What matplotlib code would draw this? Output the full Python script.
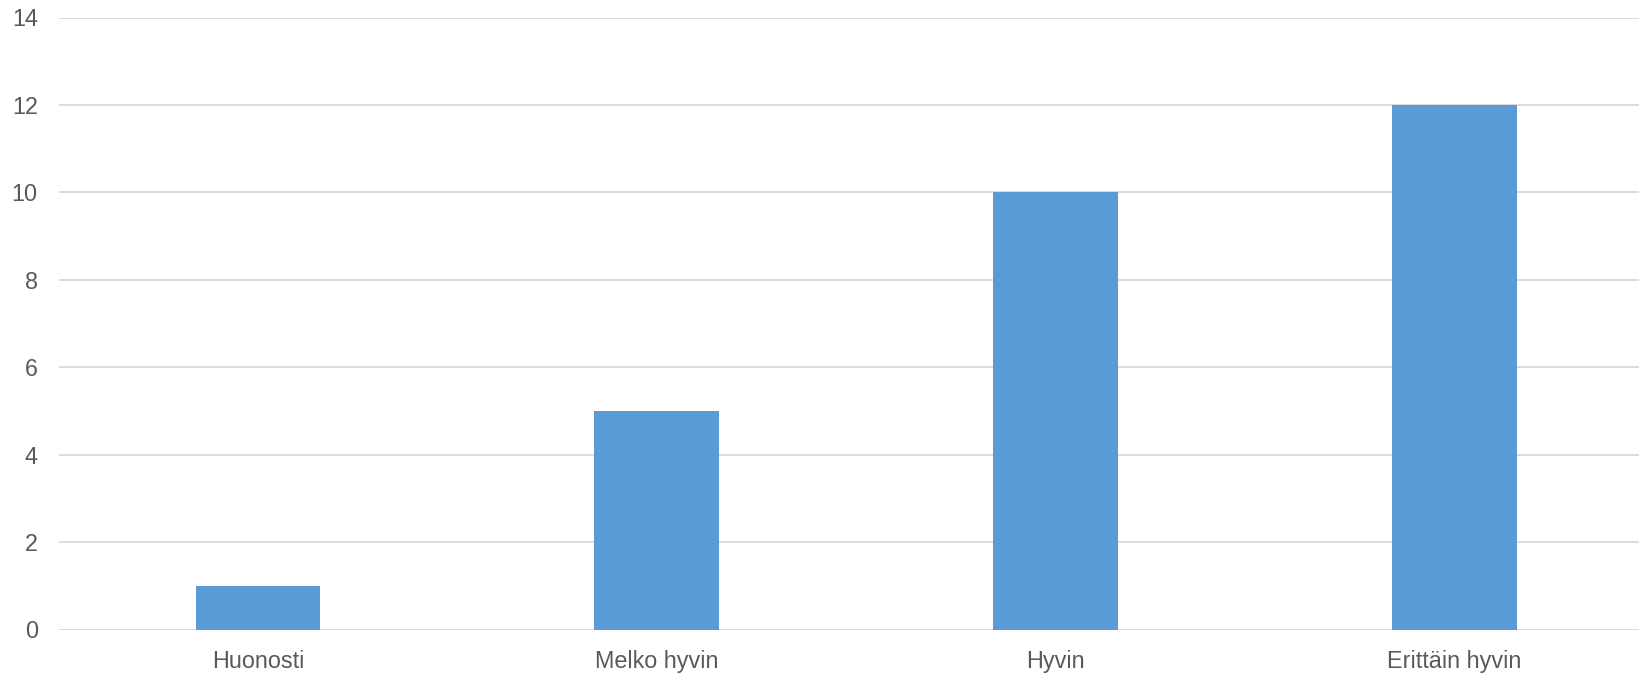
import matplotlib
matplotlib.use("Agg")
import matplotlib.pyplot as plt
import numpy as np

categories = ["Huonosti", "Melko hyvin", "Hyvin", "Erittäin hyvin"]
values = [1, 5, 10, 12]
y_ticks = [0, 2, 4, 6, 8, 10, 12, 14]

plt.rcParams['font.family'] = ['Liberation Sans', 'DejaVu Sans']

W, H = 1639, 673
fig = plt.figure(figsize=(W / 100, H / 100), dpi=100)
# axes runs past the right edge, the original chart is cropped there
left, right = 58.6, 1653.7
top, bottom = 17.5, 629.5
ax = fig.add_axes([left / W, (H - bottom) / H, (right - left) / W, (bottom - top) / H])

x = np.arange(len(categories))
ax.bar(x, values, width=0.313, color="#5B9BD5", zorder=3)

ax.set_xlim(-0.5, len(categories) - 0.5)
ax.set_ylim(0, 14)
ax.set_yticks(y_ticks)
ax.set_xticks(x)
ax.set_xticklabels(categories)

for s in ax.spines.values():
    s.set_visible(False)
ax.yaxis.grid(True, color="#D9D9D9", linewidth=1.3, zorder=0)
ax.set_axisbelow(True)
ax.tick_params(axis="both", length=0, labelsize=16.8, labelcolor="#595959")
ax.tick_params(axis="y", pad=15)
ax.tick_params(axis="x", pad=14.5)

fig.savefig("out.png", dpi=100)
